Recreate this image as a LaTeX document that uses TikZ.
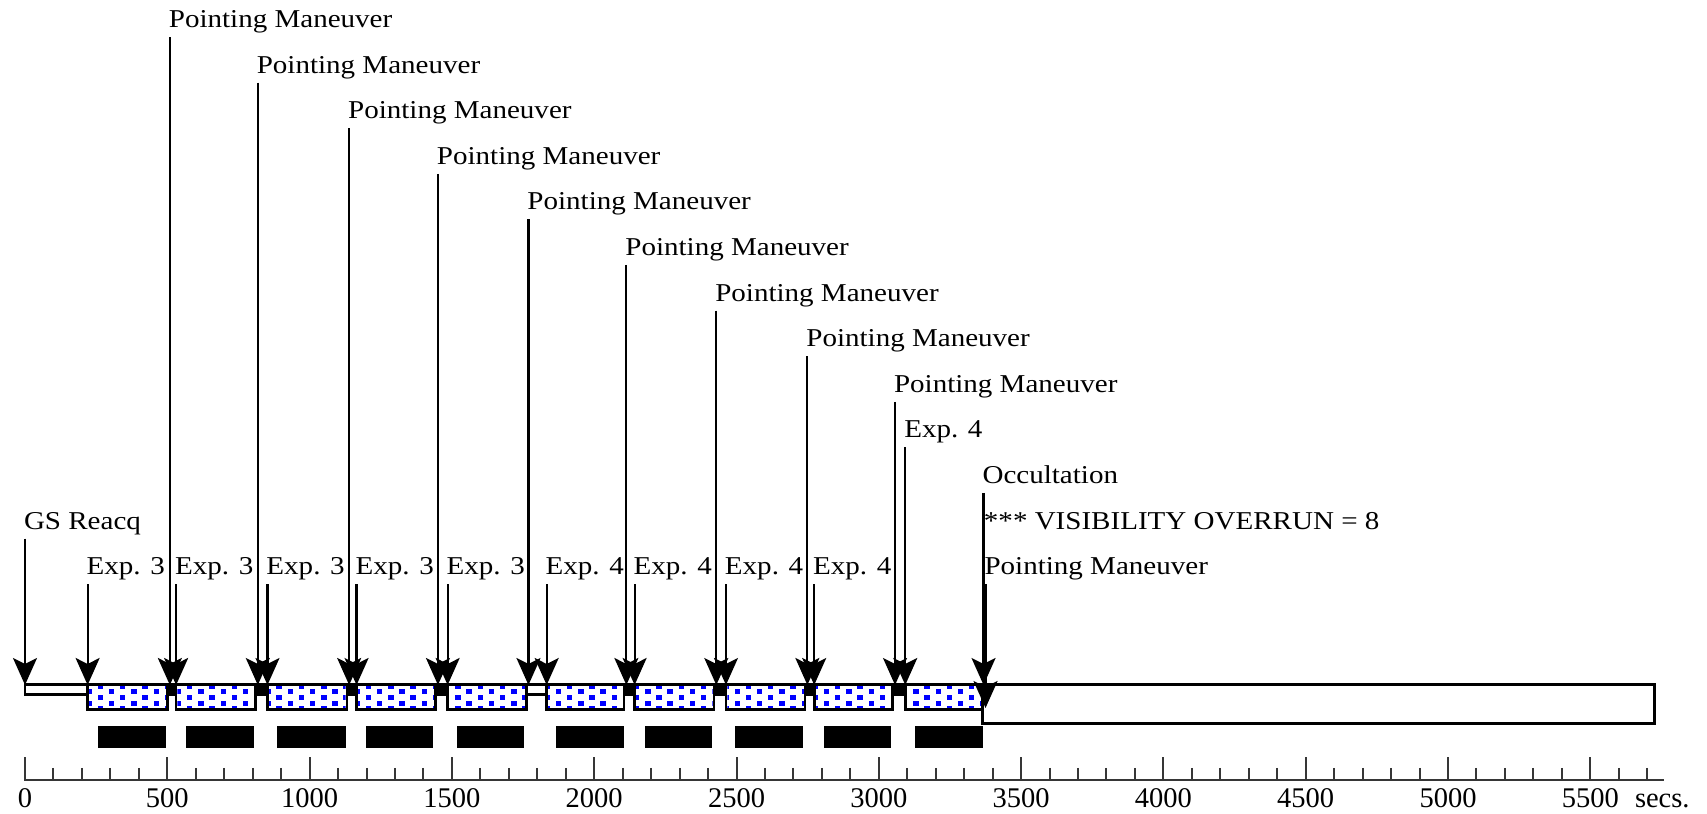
\documentclass[tikz,border=0pt]{standalone}
\usepackage{fontspec}
\setmainfont[FakeStretch=1.13]{Liberation Serif}
\newfontfamily\numfont{Liberation Serif}
\usetikzlibrary{arrows.meta}
\definecolor{axisgray}{HTML}{363636}
\definecolor{dotblue}{HTML}{0000FF}
\begin{document}
\begin{tikzpicture}[x=0.2846pt,y=-1pt,
  evt/.style={line width=2.2pt,-{Stealth[length=27pt,width=24pt,inset=6pt]}},
  lbl/.style={anchor=base west,inner sep=0pt,outer sep=0pt,xshift=-1pt,font=\fontsize{25.7}{30}\selectfont},
  num/.style={anchor=base,inner sep=0pt,outer sep=0pt,font=\numfont\fontsize{28.5}{32}\selectfont},
  boxline/.style={draw=black,line width=2.7pt},
  axisline/.style={draw=axisgray,line width=2pt},
]
\useasboundingbox (-87.843,0) rectangle (5910.05,814);

% observation boxes (white ground)
\foreach \a/\b in {220/501,531/810,852/1131,1165/1443,1485/1761,1833/2105,2142/2421,2463/2741,2773/3049,3093/3365}
  \fill[white] (\a,684.7) rectangle (\b,709.3);
% blue dot pattern
\begin{scope}
  \path[clip] foreach \a/\b in {220/501,531/810,852/1131,1165/1443,1485/1761,1833/2105,2142/2421,2463/2741,2773/3049,3093/3365} {({\a+4.7},686.1) rectangle ({\b-4.7},707.9)};
  \foreach \r in {0,...,4}{
    \pgfmathsetmacro\ph{ifthenelse(mod(\r,2)==0,265,226)}
    \pgfmathsetmacro\yy{686.3+5.6*\r}
    \foreach \c in {0,...,40}
      \fill[dotblue] ({\ph+78.5*\c-9.5},{\yy-2.5}) rectangle ++(19,5);
  }
\end{scope}
\foreach \a/\b in {220/501,531/810,852/1131,1165/1443,1485/1761,1833/2105,2142/2421,2463/2741,2773/3049,3093/3365}
  \draw[boxline] (\a,684.7) rectangle (\b,709.3);

% maneuver gaps
\foreach \a/\b in {501/531,810/852,1131/1165,1443/1485,2105/2142,2421/2463,2741/2773,3049/3093}
  \fill[black] (\a,683.3) rectangle (\b,696);
\draw[boxline,fill=white] (1761,684.7) rectangle (1833,694.7);
\draw[boxline,fill=white] (0,684.7) rectangle (220,694.7);
\draw[boxline,fill=white] (3365,684.7) rectangle (5726,723.3);

% black bars
\foreach \a/\b in {256/496,566/805,887/1127,1197/1435,1517/1755,1867/2104,2177/2415,2496/2734,2806/3044,3127/3365}
  \fill[black] (\a,726) rectangle (\b,747.7);

% time axis
\draw[axisline] (-3.5,780) -- (5759,780);
\foreach \t in {0,100,...,5700} \draw[axisline] (\t,768) -- (\t,781);
\foreach \t in {0,500,...,5500} \draw[axisline] (\t,757.3) -- (\t,781);
\foreach \t in {0,500,...,5500} \node[num] (n\t) at (\t,807.7) {\t};
\node[num,anchor=base west] (secs) at (5657,807.7) {secs.};

% events
\foreach \n/\s/\k/\tip/\txt in {
  gs/0/11/685/GS Reacq,
  ea/220/12/685/Exp. 3,
  pa/509/0/685/Pointing Maneuver,
  eb/531/12/685/Exp. 3,
  pb/818/1/685/Pointing Maneuver,
  ec/852/12/685/Exp. 3,
  pc/1139/2/685/Pointing Maneuver,
  ed/1165/12/685/Exp. 3,
  pd/1451/3/685/Pointing Maneuver,
  ee/1485/12/685/Exp. 3,
  pe/1769/4/685/Pointing Maneuver,
  ef/1833/12/685/Exp. 4,
  pf/2113/5/685/Pointing Maneuver,
  eg/2142/12/685/Exp. 4,
  pg/2429/6/685/Pointing Maneuver,
  eh/2463/12/685/Exp. 4,
  ph/2749/7/685/Pointing Maneuver,
  ei/2773/12/685/Exp. 4,
  pi/3057/8/685/Pointing Maneuver,
  ej/3093/9/685/Exp. 4,
  oc/3368/10/685/Occultation,
  pj/3375/12/708/Pointing Maneuver}{
  \pgfmathsetmacro\ltop{37+45.6*\k}
  \pgfmathsetmacro\lbase{\ltop-9.5}
  \node[lbl] (\n) at (\s,\lbase) {\txt};
  \coordinate (\n-top) at (\s,\ltop);
  \coordinate (\n-tip) at (\s,\tip);
  \draw[evt] (\n-top) -- (\n-tip);
}
\node[lbl] (vis) at (3373,529.1) {*** VISIBILITY OVERRUN = 8};
\end{tikzpicture}
\end{document}
